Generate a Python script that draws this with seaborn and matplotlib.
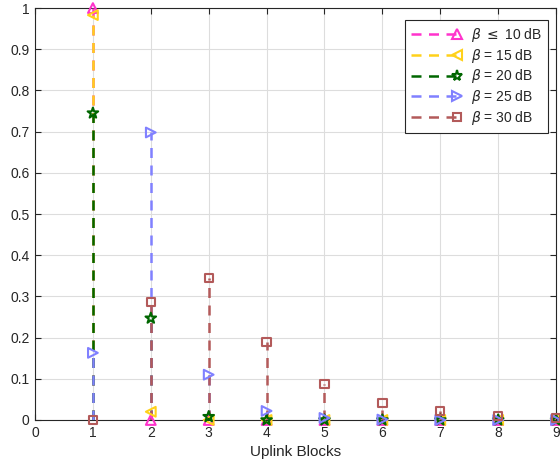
import numpy as np
import pandas as pd
import matplotlib
matplotlib.use("Agg")
import matplotlib.pyplot as plt
import seaborn as sns
from matplotlib.lines import Line2D
from matplotlib.legend_handler import HandlerLine2D

# Uplink block index
blocks = [1, 2, 3, 4, 5, 6, 7, 8, 9]

# Probability per uplink block for each SNR threshold
p_beta10 = [1.000, 0.000, 0.000, 0.000, 0.000, 0.000, 0.000, 0.000, 0.000]
p_beta15 = [0.983, 0.020, 0.000, 0.000, 0.000, 0.000, 0.000, 0.000, 0.000]
p_beta20 = [0.745, 0.247, 0.008, 0.000, 0.000, 0.000, 0.000, 0.000, 0.000]
p_beta25 = [0.163, 0.698, 0.110, 0.022, 0.005, 0.001, 0.000, 0.000, 0.000]
p_beta30 = [0.000, 0.286, 0.344, 0.189, 0.087, 0.041, 0.022, 0.009, 0.005]

labels = [r"$\beta$ $\leq$ 10 dB", r"$\beta$ = 15 dB", r"$\beta$ = 20 dB",
          r"$\beta$ = 25 dB", r"$\beta$ = 30 dB"]
colors = ["#FF33CC", "#FFD11A", "#006600", "#8080FF", "#B35A5A"]
markers = ["^", "<", "*", ">", "s"]
msizes = [7, 7, 8, 7, 6]

series = [p_beta10, p_beta15, p_beta20, p_beta25, p_beta30]
df = pd.concat(
    [pd.DataFrame({"block": blocks, "prob": s, "label": lab})
     for s, lab in zip(series, labels)],
    ignore_index=True,
)

sns.set_theme(style="whitegrid")
plt.rcParams["font.family"] = ["Liberation Sans", "DejaVu Sans"]
plt.rcParams["mathtext.fontset"] = "dejavusans"

fig = plt.figure(figsize=(5.6, 4.75), dpi=100)
ax = fig.add_axes([0.0625, 0.1158, 0.9305, 0.8672])

text_col = "#262626"

for lab, col, mk, ms in zip(labels, colors, markers, msizes):
    sub = df[df["label"] == lab]
    ax.vlines(sub["block"], 0, sub["prob"], colors=col, linestyles=(0, (4, 3)),
              linewidth=1.8, zorder=3)
    sns.scatterplot(data=sub, x="block", y="prob", ax=ax, marker=mk,
                    s=ms ** 2, facecolor="none", edgecolor=col, linewidth=1.5,
                    legend=False, zorder=4, clip_on=False)

ax.set_xlim(0, 9)
ax.set_ylim(0, 1)
ax.set_xticks(range(0, 10))
ax.set_yticks(np.round(np.arange(0, 1.01, 0.1), 1))
ax.set_yticklabels(["0"] + [f"{v:.1f}" for v in np.arange(0.1, 0.95, 0.1)] + ["1"])
ax.set_xlabel("Uplink Blocks", fontsize=11, color=text_col, labelpad=4)
ax.set_ylabel("")

ax.grid(True, color="#DDDDDD", linewidth=0.8)
ax.set_facecolor("white")
for sp in ax.spines.values():
    sp.set_visible(True)
    sp.set_color(text_col)
    sp.set_linewidth(0.8)
ax.tick_params(axis="both", direction="in", length=4, width=0.8,
               colors=text_col, labelsize=10, top=True, right=True,
               bottom=True, left=True, pad=4)


class EndMarkerHandler(HandlerLine2D):
    """Legend entry: dashed stem segment with the marker at its right end."""

    def create_artists(self, legend, orig_handle, xdescent, ydescent, width,
                       height, fontsize, trans):
        artists = super().create_artists(legend, orig_handle, xdescent,
                                         ydescent, width, height, fontsize,
                                         trans)
        for a in artists:
            n = len(a.get_xdata())
            a.set_markevery([n - 1])
        return artists


handles = [Line2D([], [], color=c, linestyle=(0, (4, 3)), linewidth=1.8,
                  marker=m, markersize=s, markerfacecolor="none",
                  markeredgecolor=c, markeredgewidth=1.5)
           for c, m, s in zip(colors, markers, msizes)]
leg = ax.legend(handles, labels, loc="upper right",
                bbox_to_anchor=(0.985, 0.972), fontsize=10, frameon=True,
                fancybox=False, edgecolor=text_col, framealpha=1,
                handlelength=3.3, handletextpad=1.0, labelspacing=0.2,
                borderpad=0.45, borderaxespad=0.0, numpoints=1,
                handler_map={Line2D: EndMarkerHandler(numpoints=1)})
leg.get_frame().set_linewidth(0.8)
for t in leg.get_texts():
    t.set_color(text_col)

fig.savefig("out.png", dpi=100)
